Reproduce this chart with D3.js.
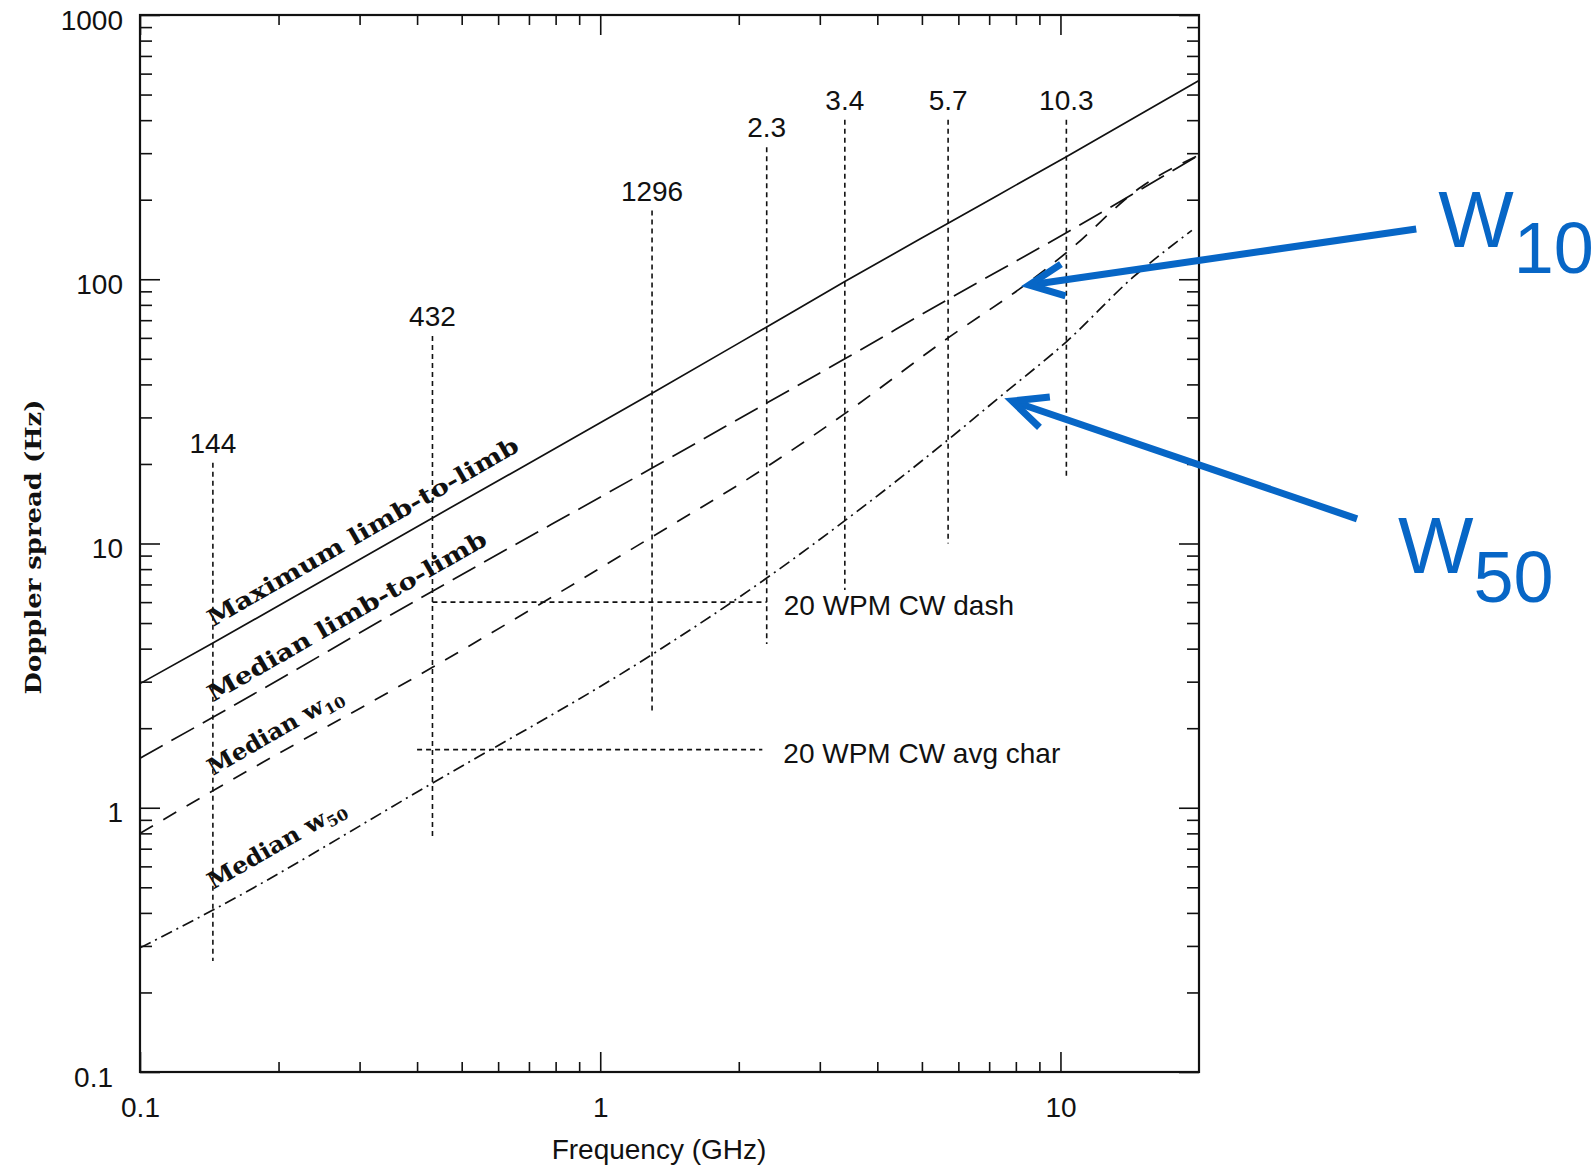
<!DOCTYPE html>
<html>
<head>
<meta charset="utf-8">
<script src="https://cdn.jsdelivr.net/npm/d3@7"></script>
<style>
  html, body { margin: 0; padding: 0; background: #fff; }
  svg { display: block; }
</style>
</head>
<body>
<svg id="chart" width="1595" height="1170"></svg>
<script>
// ---------------- DATA ----------------
const maxFreq   = [0.1, 0.144, 0.432, 1.296, 2.3, 3.4, 5.7, 10.3, 20];
const maxVals   = [2.95, 4.2, 12.5, 37, 66, 98, 163, 291, 565];

const medFreq   = [0.1, 0.144, 0.432, 1.296, 2.3, 3.4, 5.7, 10.3, 20];
const medVals   = [1.54, 2.2, 6.6, 19.3, 34, 50, 84, 150, 295];

const w10Freq   = [0.1, 0.144, 0.432, 1.296, 2.3, 3.4, 5.7, 8.5, 10.3, 15, 20];
const w10Vals   = [0.80, 1.16, 3.4, 10.6, 19.5, 31, 60, 97, 126, 224, 295];

const w50Freq   = [0.1, 0.144, 0.432, 1.296, 2.3, 3.4, 5.7, 7.4, 10.3, 14.4, 19.3];
const w50Vals   = [0.295, 0.41, 1.24, 3.8, 7.4, 12.2, 24.7, 36, 58, 102, 153];

// band markers (vertical dotted lines)
const markerFreqs  = [0.144, 0.432, 1.296, 2.3, 3.4, 5.7, 10.3];
const markerLabels = ["144", "432", "1296", "2.3", "3.4", "5.7", "10.3"];
const markerTop    = [20.2, 61, 182, 316, 401, 401, 401];
const markerBottom = [0.263, 0.78, 2.3, 4.17, 6.67, 10, 18];

// CW reference lines (horizontal dotted lines)
const cwLabels = ["20 WPM CW dash", "20 WPM CW avg char"];
const cwValues = [6.0, 1.66];
const cwFrom   = [0.432, 0.40];
const cwTo     = [2.3, 2.25];

// axis ticks
const xMajorTicks  = [0.1, 1, 10];
const xTickLabels  = ["0.1", "1", "10"];
const yMajorTicks  = [0.1, 1, 10, 100, 1000];
const yTickLabels  = ["0.1", "1", "10", "100", "1000"];

// curve label anchors (frequency, value on the baseline)
const curveLabelText = ["Maximum limb-to-limb", "Median limb-to-limb", "Median w", "Median w"];
const curveLabelSub  = ["", "", "10", "50"];
const curveLabelFreq = [0.144, 0.144, 0.144, 0.144];
const curveLabelVal  = [4.83, 2.51, 1.32, 0.489];
const curveLabelLen  = [355, 318, 152, 155];

// annotation arrows (tip and tail, in data space)
const arrowNames = ["W", "W"];
const arrowSubs  = ["10", "50"];
const arrowTip   = [[8.55, 95.1], [7.85, 34.6]];
const arrowTail  = [[59.3, 155], [44.1, 12.4]];

// ---------------- LAYOUT ----------------
const W = 1595, H = 1170;
const margin = {left: 140, top: 15, right: 396, bottom: 98};
const pw = W - margin.left - margin.right;   // 1059
const ph = H - margin.top - margin.bottom;   // 1057

const svg = d3.select("#chart");
const g = svg.append("g").attr("transform", `translate(${margin.left},${margin.top})`);

const x = d3.scaleLog().domain([0.1, 20]).range([0, pw]);
const y = d3.scaleLog().domain([0.1, 1000]).range([ph, 0]);

const sansFont = "'Liberation Sans', Arial, Helvetica, sans-serif";
const serifFont = "'DejaVu Serif', 'Liberation Serif', serif";

svg.append("defs").append("clipPath").attr("id", "plotclip")
  .append("rect").attr("x", 0).attr("y", 0).attr("width", pw).attr("height", ph);

// minor ticks
const isMajor = v => Math.abs(Math.log10(v) - Math.round(Math.log10(v))) < 1e-9;
const xMinor = x.ticks(20).filter(v => !isMajor(v) && v < 20);
const yMinor = y.ticks(40).filter(v => !isMajor(v));

function styleAxis(sel) {
  sel.select(".domain").remove();
  sel.selectAll(".tick line").attr("stroke", "#111").attr("stroke-width", 1.6);
  sel.selectAll(".tick text").attr("font-family", sansFont).attr("font-size", 28).attr("fill", "#111");
}

// bottom axis
g.append("g").attr("transform", `translate(0,${ph})`)
  .call(d3.axisBottom(x).tickValues(xMajorTicks).tickSize(-20).tickPadding(25)
        .tickFormat((d, i) => xTickLabels[i]))
  .call(styleAxis);
g.append("g").attr("transform", `translate(0,${ph})`)
  .call(d3.axisBottom(x).tickValues(xMinor).tickSize(-10).tickFormat(""))
  .call(styleAxis);
// top axis
g.append("g")
  .call(d3.axisTop(x).tickValues(xMajorTicks).tickSize(-20).tickFormat(""))
  .call(styleAxis);
g.append("g")
  .call(d3.axisTop(x).tickValues(xMinor).tickSize(-10).tickFormat(""))
  .call(styleAxis);
// left axis
const yAx = g.append("g")
  .call(d3.axisLeft(y).tickValues(yMajorTicks).tickSize(-20).tickPadding(17)
        .tickFormat((d, i) => yTickLabels[i]))
  .call(styleAxis);
yAx.selectAll(".tick text").attr("dy", "0.5em")
  .attr("dx", d => (d === 0.1 ? -10 : 0));
g.append("g")
  .call(d3.axisLeft(y).tickValues(yMinor).tickSize(-12).tickFormat(""))
  .call(styleAxis);
// right axis
g.append("g").attr("transform", `translate(${pw},0)`)
  .call(d3.axisRight(y).tickValues(yMajorTicks).tickSize(-20).tickFormat(""))
  .call(styleAxis);
g.append("g").attr("transform", `translate(${pw},0)`)
  .call(d3.axisRight(y).tickValues(yMinor).tickSize(-12).tickFormat(""))
  .call(styleAxis);

// frame
g.append("rect").attr("x", 0).attr("y", 0).attr("width", pw).attr("height", ph)
  .attr("fill", "none").attr("stroke", "#111").attr("stroke-width", 2.2);

// axis titles
svg.append("text")
  .attr("x", 659).attr("y", 1159)
  .attr("text-anchor", "middle")
  .attr("font-family", sansFont).attr("font-size", 28).attr("fill", "#111")
  .text("Frequency (GHz)");
svg.append("text")
  .attr("transform", "translate(41,547) rotate(-90)")
  .attr("text-anchor", "middle")
  .attr("font-family", serifFont).attr("font-weight", "bold").attr("font-size", 22)
  .attr("textLength", 295).attr("lengthAdjust", "spacingAndGlyphs")
  .attr("fill", "#111")
  .text("Doppler spread (Hz)");

const plot = g.append("g").attr("clip-path", "url(#plotclip)");

// band markers
markerFreqs.forEach((f, i) => {
  plot.append("line")
    .attr("x1", x(f)).attr("x2", x(f))
    .attr("y1", y(markerTop[i])).attr("y2", y(markerBottom[i]))
    .attr("stroke", "#111").attr("stroke-width", 1.6).attr("stroke-dasharray", "5,4");
  g.append("text")
    .attr("x", x(f)).attr("y", y(markerTop[i]) - 10)
    .attr("text-anchor", "middle")
    .attr("font-family", sansFont).attr("font-size", 28).attr("fill", "#111")
    .text(markerLabels[i]);
});

// CW lines
cwLabels.forEach((lab, i) => {
  plot.append("line")
    .attr("x1", x(cwFrom[i])).attr("x2", x(cwTo[i]))
    .attr("y1", y(cwValues[i])).attr("y2", y(cwValues[i]))
    .attr("stroke", "#111").attr("stroke-width", 1.6).attr("stroke-dasharray", "5,4");
  g.append("text")
    .attr("x", x(cwTo[i]) + 17 + (i === 1 ? 4 : 0)).attr("y", y(cwValues[i]) + 13)
    .attr("font-family", sansFont).attr("font-size", 28).attr("fill", "#111")
    .text(lab);
});

// curves
const line = d3.line().x(d => x(d[0])).y(d => y(d[1])).curve(d3.curveMonotoneX);
const curves = [
  {f: maxFreq, v: maxVals, dash: null},
  {f: medFreq, v: medVals, dash: "26,10"},
  {f: w10Freq, v: w10Vals, dash: "15,12"},
  {f: w50Freq, v: w50Vals, dash: "12,5,2,5"}
];
curves.forEach(c => {
  plot.append("path")
    .datum(c.f.map((f, i) => [f, c.v[i]]))
    .attr("d", line)
    .attr("fill", "none").attr("stroke", "#111").attr("stroke-width", 1.7)
    .attr("stroke-dasharray", c.dash);
});

// curve labels
const angle = Math.atan2(y(10) - y(1), x(10) - x(1)) * 180 / Math.PI;
curveLabelText.forEach((t, i) => {
  const tx = x(curveLabelFreq[i]), ty = y(curveLabelVal[i]);
  const txt = g.append("text")
    .attr("transform", `translate(${tx},${ty}) rotate(${angle})`)
    .attr("font-family", serifFont).attr("font-weight", "bold").attr("font-size", 23)
    .attr("fill", "#111")
    .attr("textLength", curveLabelLen[i]).attr("lengthAdjust", "spacingAndGlyphs");
  txt.append("tspan").text(t);
  if (curveLabelSub[i]) {
    txt.append("tspan").attr("font-size", 15).attr("dy", 5).text(curveLabelSub[i]);
  }
});

// annotation arrows
const blue = "#0766c6";
arrowTip.forEach((tip, i) => {
  const tx = margin.left + x(tip[0]), ty = margin.top + y(tip[1]);
  const sx = margin.left + x(arrowTail[i][0]), sy = margin.top + y(arrowTail[i][1]);
  const ang = Math.atan2(sy - ty, sx - tx);
  const L = 38, half = 25 * Math.PI / 180;
  svg.append("line")
    .attr("x1", sx).attr("y1", sy).attr("x2", tx + 2 * Math.cos(ang)).attr("y2", ty + 2 * Math.sin(ang))
    .attr("stroke", blue).attr("stroke-width", 7);
  const p1 = [tx + L * Math.cos(ang - half), ty + L * Math.sin(ang - half)];
  const p2 = [tx + L * Math.cos(ang + half), ty + L * Math.sin(ang + half)];
  svg.append("path")
    .attr("d", `M${p1[0]},${p1[1]} L${tx},${ty} L${p2[0]},${p2[1]}`)
    .attr("fill", "none").attr("stroke", blue).attr("stroke-width", 7)
    .attr("stroke-linejoin", "miter").attr("stroke-miterlimit", 10);
  const off = i === 0 ? [22, 18] : [41, 54];
  const lab = svg.append("text")
    .attr("x", sx + off[0]).attr("y", sy + off[1])
    .attr("font-family", sansFont).attr("font-size", 80).attr("fill", blue);
  lab.append("tspan").text(arrowNames[i]);
  lab.append("tspan").attr("font-size", 72).attr("dy", i === 0 ? 26 : 29).text(arrowSubs[i]);
});
</script>
</body>
</html>
